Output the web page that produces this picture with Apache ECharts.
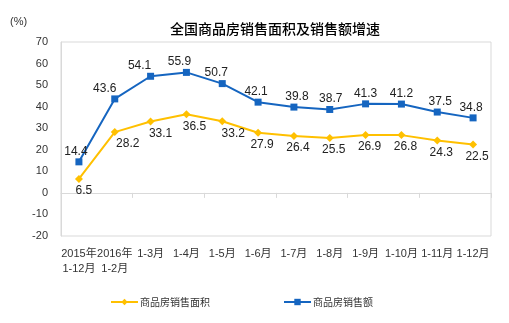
<!DOCTYPE html>
<html><head><meta charset="utf-8">
<script src="https://cdn.jsdelivr.net/npm/echarts@6/dist/echarts.min.js"></script>
<style>html,body{margin:0;padding:0;background:#fff}#c{width:509px;height:323px}</style>
</head><body><div id="c"></div>
<script>
const categories = ['2015年\n1-12月','2016年\n1-2月','1-3月','1-4月','1-5月','1-6月','1-7月','1-8月','1-9月','1-10月','1-11月','1-12月'];
const areaGrowth = [6.5,28.2,33.1,36.5,33.2,27.9,26.4,25.5,26.9,26.8,24.3,22.5];
const salesGrowth = [14.4,43.6,54.1,55.9,50.7,42.1,39.8,38.7,41.3,41.2,37.5,34.8];
const yTicks = [-20,-10,0,10,20,30,40,50,60,70];

// label nudges (style only)
const areaLabelDx = [5,13,10,8,11,4,4,4,4,4,4,4];
const salesLabelDx = [-3,-10,-11,-7,-6,-2,3,1,0,0,3,-2];

const font = 'Liberation Sans, Arial, "Noto Sans CJK SC", sans-serif';
const cjk = '"Noto Sans CJK SC", sans-serif';
const chart = echarts.init(document.getElementById('c'));
chart.setOption({
  animation: false,
  textStyle: {fontFamily: font},
  title: {text: '全国商品房销售面积及销售额增速', left: 270, top: 17, textAlign: 'center',
    textStyle: {fontSize: 14, fontWeight: 500, color: '#000', fontFamily: cjk}},
  graphic: [{type: 'text', left: 10, top: 16, style: {text: '(%)', fontSize: 11, fill: '#333', fontFamily: font}}],
  legend: {bottom: 11, left: 105, itemGap: 73, itemWidth: 27, itemHeight: 8,
    textStyle: {fontSize: 10, color: '#333', fontFamily: cjk, padding: [0,0,0,-3]},
    data: ['商品房销售面积', '商品房销售额']},
  grid: {left: 61, right: 18, top: 42, bottom: 87, show: true, borderColor: '#d9d9d9', borderWidth: 1},
  xAxis: [
    {type: 'category', data: categories, position: 'bottom', axisLine: {show: false, onZero: false}, axisTick: {show: false},
     axisLabel: {fontSize: 11, color: '#333', margin: 10, lineHeight: 15, interval: 0, fontFamily: font}},
    {type: 'category', data: categories, position: 'bottom', axisLine: {show: true, onZero: true, lineStyle: {color: '#d9d9d9'}},
     axisTick: {show: true, length: 5, lineStyle: {color: '#d9d9d9'}}, axisLabel: {show: false}}
  ],
  yAxis: {type: 'value', min: yTicks[0], max: yTicks[yTicks.length-1], interval: 10,
    axisLine: {show: true, lineStyle: {color: '#d9d9d9'}}, axisTick: {show: false}, splitLine: {show: false},
    axisLabel: {fontSize: 11, color: '#333', margin: 13, fontFamily: font}},
  series: [
    {name: '商品房销售面积', type: 'line', xAxisIndex: 0, symbol: 'diamond', symbolSize: 8,
     data: areaGrowth.map((v, i) => ({value: v, label: {offset: [areaLabelDx[i], 0]}})),
     itemStyle: {color: '#FFC000'}, lineStyle: {width: 2, color: '#FFC000'},
     label: {show: true, position: 'bottom', distance: 2, fontSize: 12, color: '#222', fontFamily: font}},
    {name: '商品房销售额', type: 'line', xAxisIndex: 0, symbol: 'rect', symbolSize: 7,
     data: salesGrowth.map((v, i) => ({value: v, label: {offset: [salesLabelDx[i], 0]}})),
     itemStyle: {color: '#1565C0'}, lineStyle: {width: 2, color: '#1565C0'},
     label: {show: true, position: 'top', distance: 1, fontSize: 12, color: '#222', fontFamily: font}}
  ]
});
</script></body></html>
